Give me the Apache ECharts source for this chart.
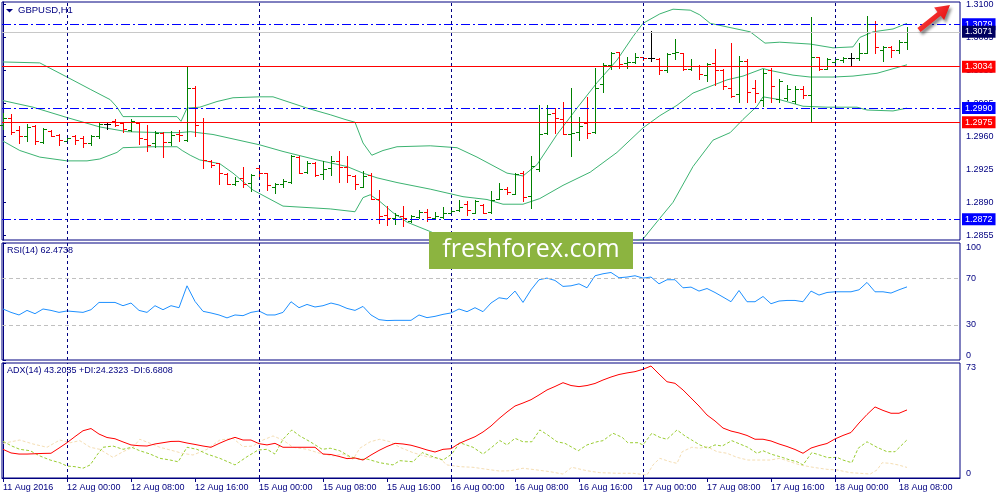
<!DOCTYPE html>
<html>
<head>
<meta charset="utf-8">
<title>GBPUSD,H1</title>
<script src="https://cdn.jsdelivr.net/npm/echarts@6/dist/echarts.min.js"></script>
<style>
html, body { margin: 0; padding: 0; background: #fff; }
#chart { width: 1000px; height: 500px; }
</style>
</head>
<body>
<div id="chart"></div>
<script>
// hourly bars, index 0 = 11 Aug 2016 16:00
const opens = [1.2972,1.2980,1.2967,1.2960,1.2971,1.2954,1.2966,1.2961,1.2955,1.2960,
  1.2958,1.2953,1.2960,1.2973,1.2976,1.2974,1.2967,1.2974,1.2957,1.2953,
  1.2964,1.2954,1.2963,1.2956,1.3011,1.2975,1.2934,1.2932,1.2920,1.2909,
  1.2916,1.2911,1.2926,1.2921,1.2906,1.2909,1.2912,1.2938,1.2922,1.2932,
  1.2920,1.2926,1.2934,1.2928,1.2918,1.2906,1.2919,1.2894,1.2877,1.2873,
  1.2875,1.2870,1.2874,1.2880,1.2873,1.2874,1.2879,1.2882,1.2888,1.2879,
  1.2887,1.2880,1.2894,1.2904,1.2899,1.2921,1.2897,1.2925,1.2964,1.2985,
  1.2978,1.2962,1.2965,1.2974,1.2965,1.3016,1.3036,1.3050,1.3038,1.3039,
  1.3044,1.3043,1.3042,1.3030,1.3048,1.3049,1.3031,1.3035,1.3025,1.3038,
  1.3030,1.3011,1.3005,1.3040,1.3011,1.2999,1.3030,1.3000,1.3001,1.2998,
  1.3010,1.3004,1.3044,1.3032,1.3039,1.3041,1.3043,1.3043,1.3049,1.3079,
  1.3052,1.3055,1.3052,1.3060];
const highs = [1.2985,1.2984,1.2971,1.2973,1.2972,1.2969,1.2967,1.2962,1.2961,1.2961,
  1.2960,1.2961,1.2974,1.2975,1.2978,1.2974,1.2978,1.2974,1.2972,1.2966,
  1.2965,1.2966,1.2967,1.3035,1.3013,1.2979,1.2935,1.2932,1.2921,1.2917,
  1.2928,1.2920,1.2927,1.2921,1.2911,1.2915,1.2940,1.2939,1.2934,1.2933,
  1.2934,1.2939,1.2945,1.2939,1.2919,1.2923,1.2921,1.2903,1.2886,1.2879,
  1.2886,1.2877,1.2882,1.2883,1.2880,1.2885,1.2884,1.2892,1.2891,1.2892,
  1.2888,1.2902,1.2910,1.2906,1.2921,1.2923,1.2939,1.2993,1.2993,1.2990,
  1.2996,1.3011,1.2981,1.3002,1.3033,1.3038,1.3050,1.3050,1.3044,1.3048,
  1.3044,1.3072,1.3043,1.3048,1.3063,1.3049,1.3042,1.3036,1.3038,1.3053,
  1.3031,1.3059,1.3045,1.3042,1.3020,1.3032,1.3033,1.3021,1.3015,1.3014,
  1.3013,1.3087,1.3044,1.3043,1.3044,1.3044,1.3048,1.3059,1.3088,1.3082,
  1.3056,1.3056,1.3062,1.3076];
const lows = [1.2968,1.2963,1.2953,1.2955,1.2952,1.2953,1.2960,1.2951,1.2954,1.2952,
  1.2949,1.2951,1.2958,1.2968,1.2971,1.2965,1.2966,1.2952,1.2945,1.2949,
  1.2938,1.2951,1.2955,1.2955,1.2960,1.2926,1.2928,1.2909,1.2909,1.2908,
  1.2906,1.2902,1.2916,1.2903,1.2900,1.2906,1.2911,1.2921,1.2921,1.2918,
  1.2915,1.2919,1.2912,1.2912,1.2904,1.2906,1.2894,1.2868,1.2866,1.2867,
  1.2865,1.2869,1.2873,1.2870,1.2873,1.2873,1.2877,1.2881,1.2877,1.2879,
  1.2879,1.2879,1.2894,1.2899,1.2899,1.2891,1.2884,1.2923,1.2962,1.2964,
  1.2962,1.2939,1.2956,1.2958,1.2964,1.3007,1.3032,1.3033,1.3033,1.3038,
  1.3041,1.3040,1.3026,1.3028,1.3042,1.3030,1.3030,1.3021,1.3019,1.3015,
  1.3010,1.3002,1.2996,1.2996,1.2996,1.2992,1.2997,1.2997,1.2999,1.2995,
  1.3001,1.2975,1.3030,1.3032,1.3038,1.3039,1.3036,1.3041,1.3048,1.3049,
  1.3040,1.3044,1.3048,1.3053];
const closes = [1.2979,1.2965,1.2960,1.2970,1.2955,1.2968,1.2960,1.2956,1.2958,1.2956,
  1.2953,1.2960,1.2973,1.2973,1.2972,1.2968,1.2976,1.2958,1.2951,1.2964,
  1.2954,1.2961,1.2961,1.3011,1.2972,1.2935,1.2930,1.2921,1.2909,1.2913,
  1.2909,1.2919,1.2921,1.2908,1.2909,1.2913,1.2939,1.2921,1.2932,1.2919,
  1.2925,1.2934,1.2927,1.2919,1.2909,1.2918,1.2894,1.2876,1.2873,1.2877,
  1.2873,1.2876,1.2880,1.2874,1.2875,1.2879,1.2881,1.2885,1.2882,1.2891,
  1.2879,1.2893,1.2904,1.2901,1.2920,1.2896,1.2929,1.2963,1.2984,1.2979,
  1.2963,1.2964,1.2971,1.2964,1.3011,1.3036,1.3048,1.3037,1.3039,1.3044,
  1.3043,1.3043,1.3030,1.3047,1.3050,1.3031,1.3035,1.3026,1.3037,1.3030,
  1.3013,1.3003,1.3040,1.3007,1.3006,1.3027,1.3013,1.3019,1.3010,1.3010,
  1.3004,1.3044,1.3031,1.3042,1.3042,1.3043,1.3043,1.3048,1.3079,1.3055,
  1.3055,1.3052,1.3060,1.3071];

// Bollinger bands, [bar, price]
const bbUpper = [[0,1.3039],[4.6,1.3038],[8,1.3023],[10.9,1.3010],[13.4,1.2999],[14.25,1.2991],[15,1.2981],
  [21.75,1.2981],[22.25,1.2976],[23,1.2990],[24.6,1.2991],[26.75,1.2997],[28.75,1.3001],[32.1,1.3002],
  [33.75,1.3002],[38,1.2990],[40.9,1.2983],[42.75,1.2978],[44,1.2975],[45,1.2953],[46.1,1.2940],
  [47.5,1.2945],[49.25,1.2949],[53.4,1.2950],[56.75,1.2948],[59.25,1.2938],[63,1.2921],[65,1.2918],
  [66.75,1.2930],[69.25,1.2962],[71.75,1.2990],[74.25,1.3017],[76.75,1.3041],[78.75,1.3066],[80,1.3080],
  [82.1,1.3090],[83.75,1.3095],[85.9,1.3094],[87.1,1.3089],[88.4,1.3080],[93.4,1.3071],[95.25,1.3059],
  [97.1,1.3060],[100.9,1.3058],[103.75,1.3054],[106.25,1.3055],[107.1,1.3065],[108.75,1.3071],
  [111.25,1.3074],[113,1.3080]];
const bbMiddle = [[0,1.2998],[3.75,1.2991],[8,1.2980],[12.1,1.2970],[15.5,1.2965],[19.6,1.2964],[22.1,1.2964],
  [23.4,1.2965],[26.25,1.2962],[32.1,1.2951],[35,1.2944],[39.25,1.2935],[43,1.2928],[45,1.2921],
  [46.75,1.2916],[49.25,1.2911],[53.4,1.2904],[57.5,1.2896],[60.5,1.2893],[62.5,1.2888],[65,1.2888],
  [67.1,1.2894],[70,1.2908],[73.4,1.2922],[76.75,1.2943],[80,1.2969],[82.1,1.2982],[84.25,1.2993],
  [86.25,1.3006],[90.5,1.3020],[92.5,1.3024],[95,1.3032],[95.9,1.3030],[98.75,1.3025],[100.9,1.3023],
  [103.75,1.3023],[106.25,1.3024],[109.25,1.3027],[113,1.3036]];
const bbLower = [[0,1.2955],[2.1,1.2945],[4.6,1.2938],[8,1.2934],[10.5,1.2934],[12.1,1.2936],[14.25,1.2943],
  [15,1.2948],[18.75,1.2949],[21.75,1.2949],[22.4,1.2945],[23.4,1.2940],[24.6,1.2935],[27.1,1.2931],
  [28.75,1.2921],[31.25,1.2903],[35,1.2886],[40.9,1.2883],[44,1.2880],[45,1.2895],[45.9,1.2898],
  [47.1,1.2891],[48.75,1.2879],[50.5,1.2869],[53.4,1.2859],[55,1.2853],[59.6,1.2834],[64.6,1.2827],
  [69.6,1.2831],[74.6,1.2840],[78.4,1.2847],[80,1.2851],[82.1,1.2873],[83.75,1.2890],[86.25,1.2928],
  [88.75,1.2956],[90.9,1.2964],[92.5,1.2978],[94.25,1.2992],[95,1.3002],[97.1,1.2999],[100,1.2992],
  [103,1.2991],[106.75,1.2991],[108,1.2988],[111.25,1.2987],[113,1.2990]];

// horizontal levels
const blueLevels = [1.3079, 1.2990, 1.2872];
const redLevels = [1.3034, 1.2975];
const bidPrice = 1.3071;

// RSI(14), one value per bar
const rsi = [43.6,40.7,38.5,42.4,39.6,43.6,42.4,40.7,41.9,41.3,
  40.7,43.0,49.2,49.2,49.2,46.4,48.7,42.4,40.7,46.4,
  43.0,46.4,44.7,63.4,50.1,41.6,40.2,38.5,36.0,38.5,
  37.9,40.7,41.9,38.5,38.5,40.7,49.8,44.7,47.5,45.3,
  46.4,48.7,47.0,44.1,42.4,45.8,38.5,34.5,33.7,33.9,
  33.9,33.9,38.5,36.2,37.3,39.0,40.2,43.6,41.3,44.7,
  41.3,48.7,53.2,52.1,58.9,49.2,60.0,68.6,70.0,68.0,
  62.9,63.4,65.1,61.7,72.0,73.7,74.8,70.3,70.9,72.0,
  70.0,70.9,65.1,68.6,68.6,61.7,62.3,58.9,61.1,57.7,
  53.8,49.8,59.4,49.8,49.8,54.3,48.1,50.4,50.9,50.9,
  49.8,58.9,55.5,57.7,58.3,58.3,58.3,60.0,66.3,58.3,
  58.3,57.2,60.0,62.5];

// ADX(14), one value per bar
const adx = [18.2,15.9,15.2,15.2,15.4,15.6,15.7,19.0,22.4,26.3,
  30.0,31.4,27.9,25.7,24.9,22.9,21.0,20.5,20.3,21.6,
  22.4,23.2,23.3,22.2,21.3,20.3,19.5,21.9,24.1,25.8,
  24.1,24.1,21.8,21.0,22.0,19.5,19.5,19.5,19.5,19.5,
  15.2,14.9,13.7,12.3,12.7,11.4,14.6,17.5,20.0,22.0,
  21.6,20.8,19.4,17.8,16.5,18.2,18.6,21.9,24.1,26.2,
  29.2,33.0,37.7,41.9,45.7,47.6,49.7,52.7,55.9,58.1,
  60.5,58.7,58.0,58.7,60.0,62.2,64.1,65.7,66.7,67.5,
  69.0,71.1,66.0,61.1,60.1,55.9,50.8,45.7,40.0,36.2,
  31.7,29.8,28.6,27.0,24.6,24.6,23.5,21.6,20.0,18.1,
  15.7,19.0,20.6,21.9,24.8,27.0,28.9,34.9,40.3,45.1,
  42.9,41.1,41.1,43.2];
// +DI / -DI, [bar, value]
const plusDI = [[0,23.3],[1.1,20.3],[2.1,18.2],[3.4,17.3],[4.6,14.0],[5.9,11.4],[7.1,9.7],[8,7.6],[9,7.2],
  [10,6.2],[10.9,8.3],[11.75,14.6],[12.5,19.5],[13.75,20.3],[15,18.2],[16.1,19.5],[17.1,17.3],[18.4,15.2],
  [19.6,12.5],[20.9,11.4],[21.9,10.3],[23,19.5],[24.25,18.2],[25.5,15.2],[27.1,12.5],[29,8.3],[30.5,13.5],
  [31.9,17.8],[33,18.2],[34,15.2],[35,24.6],[36.1,30.5],[37.1,26.7],[38.4,23.0],[39.9,18.2],[40.9,18.9],
  [42.1,17.3],[43.4,13.5],[44.6,11.9],[45.6,11.9],[47.1,9.7],[48.75,8.3],[49.6,11.0],[51.25,10.3],
  [52.4,16.1],[53.75,13.5],[55,11.4],[56.1,15.2],[57.1,22.4],[58.75,19.5],[60,15.2],[61.1,19.5],
  [62.1,23.8],[63,21.0],[64,25.2],[65,23.0],[66.1,23.0],[67.1,30.5],[68.1,27.3],[69.25,23.0],[70.25,22.0],
  [71.9,17.3],[73,21.0],[74.25,23.0],[75,23.7],[76.25,28.4],[77.4,25.8],[78.1,22.4],[79.4,22.4],[80,21.0],
  [81.1,28.4],[82.1,25.8],[83,24.6],[84.25,30.5],[85.25,26.7],[86.1,24.1],[87.1,21.0],[88.1,18.9],
  [89,21.0],[89.9,20.3],[91.1,23.7],[92.1,21.6],[93.1,19.5],[94.25,15.7],[95,17.3],[96.1,15.0],
  [97.4,13.1],[98.4,11.4],[99.25,10.3],[100,8.3],[101.1,16.1],[102.1,14.6],[103.1,12.9],[104.25,13.1],
  [105,11.4],[106.1,9.7],[106.9,18.9],[108,23.0],[109.25,19.5],[110.5,16.7],[111.5,16.7],[113,24.2]];
const minusDI = [[0,22.0],[2.1,24.1],[3.75,21.6],[5.5,19.5],[7.1,24.1],[8.4,22.4],[9.6,23.7],[10.9,19.5],
  [12.1,18.2],[13.75,13.1],[15,16.7],[16.25,19.5],[17.1,24.6],[18.4,22.0],[19.6,19.5],[20.9,17.8],
  [22.4,15.7],[23.75,14.6],[25.5,18.2],[27.1,24.1],[28.75,25.2],[30,19.9],[31.25,20.3],[32.5,24.1],
  [33.75,26.7],[35,24.1],[36.25,19.5],[38,18.2],[39.6,15.7],[41.25,14.0],[42.5,15.2],[43.75,11.9],
  [44.6,18.9],[45.9,23.0],[47.1,24.6],[48.4,23.0],[49.6,19.5],[51.25,16.1],[53,13.5],[54.6,12.3],
  [55.5,8.3],[57.1,7.2],[58.75,6.8],[60.5,5.5],[62.1,4.4],[63.4,4.6],[65,6.2],[66.75,5.1],[68.4,4.0],
  [70,2.5],[71.1,6.8],[73,4.6],[74.6,3.4],[76.75,3.0],[78.75,3.0],[80.5,1.9],[81.25,8.3],[82.1,12.5],
  [83.4,10.3],[84.25,9.3],[84.9,16.7],[86.1,19.5],[87.1,18.9],[88,19.9],[89.25,16.7],[90.5,15.7],
  [91.75,13.1],[93.1,11.4],[94.6,11.4],[95.9,11.4],[97.1,12.5],[98.4,10.3],[99.6,8.3],[101.25,6.8],
  [103,5.5],[104.25,5.1],[105.9,3.4],[107.1,3.0],[108.4,2.5],[109.25,5.1],[109.9,9.7],[110.9,9.3],
  [111.9,8.3],[113,6.7]];

// axis ticks
const priceTicks = [1.3100, 1.3065, 1.3030, 1.2995, 1.2960, 1.2925, 1.2890, 1.2855];
const rsiTicks = [0, 30, 70, 100];
const adxTicks = [0, 73];
const labelBars = [0, 8, 16, 24, 32, 40, 48, 56, 64, 72, 80, 88, 96, 104, 112];
const timeLabels = ['11 Aug 2016', '12 Aug 00:00', '12 Aug 08:00', '12 Aug 16:00', '15 Aug 00:00',
  '15 Aug 08:00', '15 Aug 16:00', '16 Aug 00:00', '16 Aug 08:00', '16 Aug 16:00', '17 Aug 00:00',
  '17 Aug 08:00', '17 Aug 16:00', '18 Aug 00:00', '18 Aug 08:00'];
const daySeparators = [8, 32, 56, 80, 104];

const NAVY = '#000080';
const FONT = '"Liberation Sans", Arial, sans-serif';
const X_MIN = -0.125, X_MAX = 119.625;

const ohlcData = opens.map((o, i) => [i, o, highs[i], lows[i], closes[i]]);

// MT4 style bar: high-low line, open tick left, close tick right
function renderBar (params, api) {
  const i = api.value(0)
  const o = api.value(1), h = api.value(2), l = api.value(3), c = api.value(4)
  const pH = api.coord([i, h])
  const pL = api.coord([i, l])
  const x = Math.round(pH[0]) + 0.5
  const yo = Math.round(api.coord([i, o])[1]) + 0.5
  const yc = Math.round(api.coord([i, c])[1]) + 0.5
  const color = c > o ? '#008000' : (c < o ? '#ff0000' : '#000000')
  return {
    type: 'group',
    children: [
      { type: 'line', shape: { x1: x, y1: Math.round(pH[1]), x2: x, y2: Math.round(pL[1]) + 1 }, style: { stroke: color, lineWidth: 1 } },
      { type: 'line', shape: { x1: x - 3.5, y1: yo, x2: x, y2: yo }, style: { stroke: color, lineWidth: 1 } },
      { type: 'line', shape: { x1: x, y1: yc, x2: x + 3.5, y2: yc }, style: { stroke: color, lineWidth: 1 } }
    ]
  }
}

// ADX drawn segment by segment (previous bar -> this bar)
function renderAdx (params, api) {
  const i = params.dataIndex
  if (i === 0) return null
  const p0 = api.coord([i - 1, adx[i - 1]])
  const p1 = api.coord([i, adx[i]])
  return {
    type: 'line',
    shape: { x1: p0[0], y1: p0[1], x2: p1[0], y2: p1[1] },
    style: { stroke: '#ff0000', lineWidth: 1 }
  }
}

function levelLabel (bg) {
  return {
    show: true, position: 'end', distance: 2,
    formatter: p => Number(p.value).toFixed(4),
    color: '#fff', backgroundColor: bg, padding: [2, 3, 1, 3],
    fontSize: 9, fontFamily: FONT
  }
}

// fresh objects for every series, markLine mutates its data
function sepLines () {
  return daySeparators.map(b => ({
    xAxis: b, lineStyle: { color: NAVY, type: [3, 3], width: 1 }, label: { show: false }
  }))
}

const levelLines = [].concat(
  blueLevels.map(v => ({ yAxis: v, lineStyle: { color: '#0000ff', type: [9, 3, 2, 3], width: 1 }, label: levelLabel('#0000ff') })),
  redLevels.map(v => ({ yAxis: v, lineStyle: { color: '#ff0000', type: 'solid', width: 1 }, label: levelLabel('#ff0000') })),
  [{ yAxis: bidPrice, lineStyle: { color: '#c8c8c8', type: 'solid', width: 1 }, label: levelLabel('#000060') }]
)

const gridBase = { left: 2, right: 40, show: true, borderColor: NAVY, borderWidth: 1, outerBoundsMode: 'none' }

function hiddenX (gi) {
  return { gridIndex: gi, type: 'value', min: X_MIN, max: X_MAX, show: false, splitLine: { show: false } }
}

function sideAxis (gi, min, max, ticks, fmt, inset) {
  const label = { customValues: ticks, formatter: fmt, color: NAVY, fontSize: 9, fontFamily: FONT, margin: 6 }
  if (inset) {
    label.verticalAlignMinLabel = 'bottom'
    label.verticalAlignMaxLabel = 'top'
  }
  return {
    gridIndex: gi, type: 'value', position: 'right', min: min, max: max,
    axisLine: { show: true, lineStyle: { color: NAVY } },
    axisTick: { show: true, length: 3, customValues: ticks, lineStyle: { color: NAVY } },
    axisLabel: label,
    splitLine: { show: false }
  }
}

const chart = echarts.init(document.getElementById('chart'))
chart.setOption({
  animation: false,
  backgroundColor: '#fff',
  grid: [
    Object.assign({ top: 2, height: 238 }, gridBase),
    Object.assign({ top: 243, height: 117 }, gridBase),
    Object.assign({ top: 363, height: 115 }, gridBase)
  ],
  xAxis: [
    hiddenX(0),
    hiddenX(1),
    {
      gridIndex: 2, type: 'value', min: X_MIN, max: X_MAX,
      axisLine: { show: true, lineStyle: { color: NAVY } },
      axisTick: { show: true, length: 4, customValues: labelBars, lineStyle: { color: NAVY } },
      axisLabel: {
        customValues: labelBars,
        formatter: v => timeLabels[labelBars.indexOf(Math.round(v))],
        align: 'left', margin: 5, color: NAVY, fontSize: 9, fontFamily: FONT
      },
      splitLine: { show: false }
    }
  ],
  yAxis: [
    sideAxis(0, 1.285001, 1.310265, priceTicks, v => v.toFixed(4), false),
    sideAxis(1, 0, 100, rsiTicks, v => String(v), true),
    sideAxis(2, 0, 73, adxTicks, v => String(v), true)
  ],
  series: [
    {
      type: 'line', name: '-DI', xAxisIndex: 2, yAxisIndex: 2, data: minusDI,
      symbol: 'none', silent: true, z: 3, color: '#f5deb3',
      lineStyle: { color: '#f5deb3', width: 1, type: [3, 2] },
      markLine: { silent: true, symbol: ['none', 'none'], animation: false, data: sepLines() }
    },
    {
      type: 'line', name: '+DI', xAxisIndex: 2, yAxisIndex: 2, data: plusDI,
      symbol: 'none', silent: true, z: 3, color: '#9acd32',
      lineStyle: { color: '#9acd32', width: 1, type: [3, 2] }
    },
    {
      type: 'custom', name: 'ADX(14)', xAxisIndex: 2, yAxisIndex: 2,
      data: adx.map((v, i) => [i, v]), encode: { x: 0, y: 1 },
      renderItem: renderAdx, silent: true, z: 4
    },
    {
      type: 'line', name: 'BB upper', xAxisIndex: 0, yAxisIndex: 0, data: bbUpper,
      symbol: 'none', silent: true, z: 2, lineStyle: { color: '#3cb371', width: 1 },
      markLine: { silent: true, precision: 4, symbol: ['none', 'none'], animation: false, data: levelLines }
    },
    {
      type: 'line', name: 'BB middle', xAxisIndex: 0, yAxisIndex: 0, data: bbMiddle,
      symbol: 'none', silent: true, z: 2, lineStyle: { color: '#3cb371', width: 1 },
      markLine: { silent: true, symbol: ['none', 'none'], animation: false, data: sepLines() }
    },
    {
      type: 'line', name: 'BB lower', xAxisIndex: 0, yAxisIndex: 0, data: bbLower,
      symbol: 'none', silent: true, z: 2, lineStyle: { color: '#3cb371', width: 1 }
    },
    {
      type: 'custom', name: 'GBPUSD', xAxisIndex: 0, yAxisIndex: 0, data: ohlcData,
      renderItem: renderBar, encode: { x: 0, y: [1, 2, 3, 4] }, silent: true, z: 3
    },
    {
      type: 'line', name: 'RSI(14)', xAxisIndex: 1, yAxisIndex: 1,
      data: rsi.map((v, i) => [i, v]),
      symbol: 'none', silent: true, lineStyle: { color: '#1e90ff', width: 1 },
      markLine: {
        silent: true, symbol: ['none', 'none'], animation: false,
        data: [
          { yAxis: 70, lineStyle: { color: '#c0c0c0', type: [4, 3], width: 1 }, label: { show: false } },
          { yAxis: 30, lineStyle: { color: '#c0c0c0', type: [4, 3], width: 1 }, label: { show: false } }
        ].concat(sepLines())
      }
    }
  ],
  graphic: [
    { type: 'polygon', shape: { points: [[6, 9], [13, 9], [9.5, 12.5]] }, style: { fill: NAVY }, z: 50 },
    { type: 'text', x: 18, y: 10, z: 50, style: { text: 'GBPUSD,H1', fill: NAVY, fontSize: 9.5, fontFamily: FONT, verticalAlign: 'middle' } },
    { type: 'text', x: 7, y: 251, z: 50, style: { text: 'RSI(14) 62.4738', fill: NAVY, fontSize: 9, fontFamily: FONT, verticalAlign: 'middle' } },
    { type: 'text', x: 7, y: 371, z: 50, style: { text: 'ADX(14) 43.2035 +DI:24.2323 -DI:6.6808', fill: NAVY, fontSize: 9, fontFamily: FONT, verticalAlign: 'middle' } },
    // arrow
    {
      type: 'polygon', z: 60,
      shape: { points: [[917.4, 28.1], [937.5, 11.9], [934.1, 7.6], [950, 5], [944.1, 20.0], [940.7, 15.7], [920.6, 31.9]] },
      style: {
        fill: new echarts.graphic.LinearGradient(0, 0, 1, 1, [{ offset: 0, color: '#ff5050' }, { offset: 1, color: '#e00000' }]),
        shadowBlur: 3, shadowColor: 'rgba(0,0,0,0.45)', shadowOffsetX: 2, shadowOffsetY: 3
      }
    },
    // watermark
    { type: 'rect', z: 100, shape: { x: 429, y: 232, width: 204, height: 37 }, style: { fill: '#8cb440' } },
    { type: 'text', z: 101, x: 531, y: 250, style: { text: 'freshforex.com', fill: '#ffffff', fontSize: 25, fontFamily: '"Open Sans", sans-serif', align: 'center', verticalAlign: 'middle' } }
  ]
})
</script>
</body>
</html>
